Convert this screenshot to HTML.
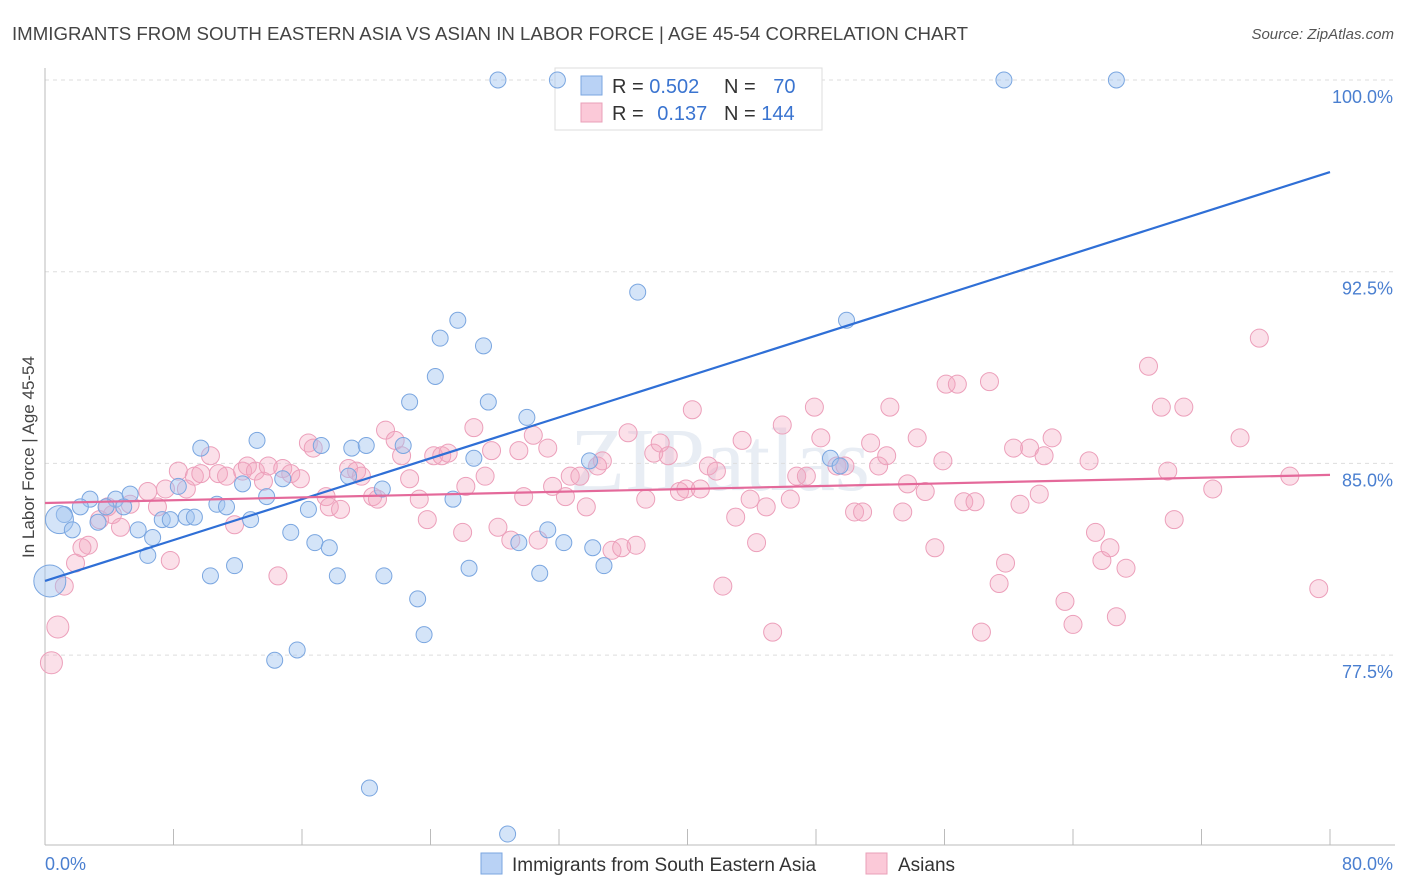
<!DOCTYPE html>
<html><head><meta charset="utf-8"><style>
body{margin:0;background:#fff;font-family:"Liberation Sans",sans-serif;}
svg{display:block}
</style></head><body>
<svg id="chart" width="1406" height="892">
<text x="12" y="40" font-size="18.5" fill="#444" textLength="956" lengthAdjust="spacingAndGlyphs">IMMIGRANTS FROM SOUTH EASTERN ASIA VS ASIAN IN LABOR FORCE | AGE 45-54 CORRELATION CHART</text>
<text x="1394" y="39" font-size="15" fill="#555" font-style="italic" text-anchor="end">Source: ZipAtlas.com</text>
<text x="720" y="490" font-size="90" fill="#e8edf4" text-anchor="middle" font-family="Liberation Serif">ZIPatlas</text>
<g id="grid"></g>
<g id="axes"></g>
<g>
<rect x="555" y="68" width="267" height="62" fill="#fff" stroke="#ddd"/>
<rect x="581" y="76" width="21" height="19" fill="#b9d2f5" stroke="#7aa6e0"/>
<rect x="581" y="103" width="21" height="19" fill="#fbc9d8" stroke="#eaa0b8"/>
<text x="612" y="93" font-size="20" fill="#333">R = <tspan fill="#3a74d0">0.502</tspan></text>
<text x="724" y="93" font-size="20" fill="#333">N = <tspan fill="#3a74d0" dx="12">70</tspan></text>
<text x="612" y="120" font-size="20" fill="#333">R = <tspan fill="#3a74d0" dx="8">0.137</tspan></text>
<text x="724" y="120" font-size="20" fill="#333">N = <tspan fill="#3a74d0">144</tspan></text>
</g>
<g id="pts"></g>
<g id="lines"></g>
<text transform="translate(34,457) rotate(-90)" font-size="17" fill="#444" text-anchor="middle">In Labor Force | Age 45-54</text>
<g>
<rect x="481" y="853" width="21" height="21" fill="#b9d2f5" stroke="#7aa6e0"/>
<text x="512" y="871" font-size="19" fill="#333">Immigrants from South Eastern Asia</text>
<rect x="866" y="853" width="21" height="21" fill="#fbc9d8" stroke="#eaa0b8"/>
<text x="898" y="871" font-size="19" fill="#333">Asians</text>
</g>
</svg>
<script>
const yTicks=[100,92.5,85,77.5];
const yTickLabels=["100.0%","92.5%","85.0%","77.5%"];
const xTicks=[0,8,16,24,32,40,48,56,64,72,80];
const blueX=[28.2,31.9,59.7,66.7,36.9,49.9,25.7,24.6,27.3,24.3,22.7,27.6,30.0,9.7,13.2,17.2,19.1,20.0,22.3,26.7,33.9,8.3,12.3,13.8,14.8,18.9,21.0,25.4,4.4,2.8,5.3,2.2,1.2,0.9,1.7,3.3,3.8,4.9,5.8,6.7,7.3,7.8,8.8,9.3,10.7,11.3,12.8,15.3,16.4,16.8,17.7,6.4,10.3,11.8,18.2,21.1,26.4,29.5,31.3,32.3,34.1,34.8,30.8,23.2,23.6,15.7,14.3,20.2,28.8,0.3,48.9,49.5];
const blueY=[100,100,100,100,91.7,90.6,90.6,89.9,89.6,88.4,87.4,87.4,86.8,85.6,85.9,85.7,85.6,85.7,85.7,85.2,85.1,84.1,84.2,83.7,84.4,84.5,84.0,83.6,83.6,83.6,83.8,83.3,83.0,82.8,82.4,82.7,83.3,83.3,82.4,82.1,82.8,82.8,82.9,82.9,83.4,83.3,82.8,82.3,83.2,81.9,81.7,81.4,80.6,81.0,80.6,80.6,80.9,81.9,82.4,81.9,81.7,81.0,80.7,79.7,78.3,77.7,77.3,72.3,70.5,80.4,85.2,84.9];
const blueSize=[9,9,9,9,9,9,9,9,9,9,9,9,9,9,9,9,9,9,9,9,9,9,9,9,9,9,9,9,9,9,9,9,9,15,9,9,9,9,9,9,9,9,9,9,9,9,9,9,9,9,9,9,9,9,9,9,9,9,9,9,9,9,9,9,9,9,9,9,9,17,9,9];
const pinkX=[0.4,0.8,1.2,1.9,2.7,2.3,4.2,4.7,3.4,3.9,5.3,6.4,7.0,7.5,7.8,8.3,8.8,9.3,9.7,10.3,10.8,11.3,11.8,12.3,12.6,13.1,13.6,13.9,14.5,14.8,15.3,15.9,16.4,16.7,17.5,17.7,18.4,18.9,19.4,19.7,20.4,20.7,21.2,21.8,22.2,22.7,23.3,23.8,24.2,24.7,25.1,26.0,26.2,26.7,27.4,27.8,28.2,29.0,29.5,29.8,30.4,30.7,31.3,31.6,32.4,32.7,33.3,33.7,34.4,34.7,35.3,35.9,36.3,36.8,37.4,37.9,38.3,38.8,39.5,39.9,40.3,40.8,41.3,41.8,42.2,43.0,43.4,43.9,44.3,44.9,45.3,45.9,46.4,46.8,47.4,47.9,48.3,49.3,49.8,50.4,50.9,51.4,51.9,52.4,52.6,53.4,53.7,54.3,54.8,55.4,55.9,56.1,56.8,57.2,57.9,58.3,58.8,59.4,59.8,60.3,60.7,61.3,61.9,62.2,62.7,63.5,64.0,65.0,65.4,65.8,66.3,66.7,67.3,68.7,69.5,69.9,70.3,70.9,72.7,74.4,75.6,77.5,79.3];
const pinkY=[77.2,78.6,80.2,81.1,81.8,81.7,83.0,82.5,82.8,83.3,83.4,83.9,83.3,84.0,81.2,84.7,84.0,84.5,84.6,85.3,84.6,84.5,82.6,84.7,84.9,84.7,84.3,84.9,80.6,84.8,84.6,84.4,85.8,85.6,83.7,83.3,83.2,84.8,84.7,84.5,83.7,83.6,86.3,85.9,85.3,84.4,83.6,82.8,85.3,85.3,85.4,82.3,84.1,86.4,84.5,85.5,82.5,82.0,85.5,83.7,86.1,82.0,85.6,84.1,83.7,84.5,84.5,83.3,84.9,85.1,81.6,81.7,86.2,81.8,83.6,85.4,85.8,85.3,83.9,84.0,87.1,84.0,84.9,84.7,80.2,82.9,85.9,83.6,81.9,83.3,78.4,86.5,83.6,84.5,84.5,87.2,86.0,84.9,84.9,83.1,83.1,85.8,84.9,85.3,87.2,83.1,84.2,86.0,83.9,81.7,85.1,88.1,88.1,83.5,83.5,78.4,88.2,80.3,81.1,85.6,83.4,85.6,83.8,85.3,86.0,79.6,78.7,85.1,82.3,81.2,81.7,79.0,80.9,88.8,87.2,84.7,82.8,87.2,84.0,86.0,89.9,84.5,80.1];
const blueLine=[80.4,96.4];
const pinkLine=[83.45,84.55];
const NS="http://www.w3.org/2000/svg";
const X0=45,X1=1330,Y100=80,YPX=191.7/7.5;
const sx=v=>X0+(v/80)*(X1-X0);
const sy=v=>Y100+(100-v)*YPX;
function mk(tag,attrs,parent){const e=document.createElementNS(NS,tag);for(const k in attrs)e.setAttribute(k,attrs[k]);parent.appendChild(e);return e;}
const grid=document.getElementById('grid'),axes=document.getElementById('axes'),pts=document.getElementById('pts'),lines=document.getElementById('lines');
yTicks.forEach((t,i)=>{
 const g=mk('line',{x1:X0,x2:1395,y1:sy(t),y2:sy(t),stroke:'#ddd','stroke-dasharray':'4,4'},grid);
 
 
 const l=mk('text',{x:1393,y:sy(t)+23,'font-size':18,fill:'#4a7fd0','text-anchor':'end'},grid);
 l.textContent=yTickLabels[i];
 
 
});
const ya=mk('line',{x1:X0,x2:X0,y1:68,y2:845,stroke:'#bbb'},axes);


const xa=mk('line',{x1:X0,x2:1395,y1:845,y2:845,stroke:'#bbb'},axes);


xTicks.forEach(t=>{
 const k=mk('line',{x1:sx(t),x2:sx(t),y1:829,y2:845,stroke:'#bbb'},axes);
 
 
});
const xl0=mk('text',{x:45,y:870,'font-size':18,fill:'#4a7fd0'},axes);xl0.textContent='0.0%';


const xl1=mk('text',{x:1393,y:870,'font-size':18,fill:'#4a7fd0','text-anchor':'end'},axes);xl1.textContent='80.0%';


pinkX.forEach((x,i)=>{
 const c=mk('circle',{cx:sx(x),cy:sy(pinkY[i]),r:(i<2?11:9),fill:'rgba(244,165,192,0.35)',stroke:'#ec9fba','stroke-width':1},pts);
 
 
});
blueX.forEach((x,i)=>{
 const c=mk('circle',{cx:sx(x),cy:sy(blueY[i]),r:blueSize[i]-1,fill:'rgba(160,195,240,0.45)',stroke:'#7aa6e0','stroke-width':1},pts);
 
 
});
const bl=mk('line',{x1:sx(0),y1:sy(blueLine[0]),x2:sx(80),y2:sy(blueLine[1]),stroke:'#2f6fd6','stroke-width':2.2},lines);


const pl=mk('line',{x1:sx(0),y1:sy(pinkLine[0]),x2:sx(80),y2:sy(pinkLine[1]),stroke:'#e4699a','stroke-width':2.2},lines);


</script>
</body></html>
